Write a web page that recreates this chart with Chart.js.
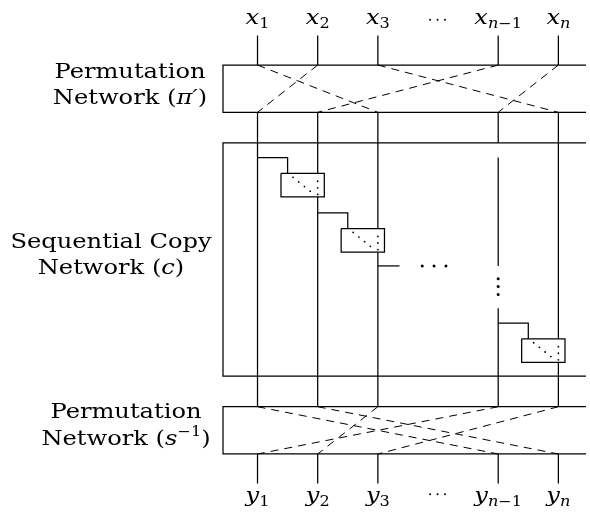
<!DOCTYPE html>
<html>
<head>
<meta charset="utf-8">
<script src="https://cdn.jsdelivr.net/npm/chart.js@4"></script>
<style>html,body{margin:0;padding:0;background:#fff}</style>
</head>
<body>
<canvas id="net" width="590" height="522"></canvas>
<script>
// wires and permutations
const wireSubs = ['1', '2', '3', 'n\u22121', 'n'];
const wireSlots = [0, 1, 2, 4, 5];
const piPrime = [2, 0, 4, 1, 3];   // top permutation: input i goes to wire piPrime[i]
const sInverse = [3, 4, 1, 0, 2];  // bottom permutation
const copySteps = [0, 1, 3];       // wires that branch into a copy box on the next wire
const ellipsisStep = 2;            // wire whose branch ends in "..."
const sectionTitles = ['Permutation', 'Sequential Copy', 'Permutation'];
const sectionNotes = ['\u03C0\u2032', 'c', 's'];

// layout
const PX0 = 257, SLOT = 61;
const toSlot = px => (px - PX0) / SLOT;
const L = toSlot(222), R = toSlot(600);
const topBox = [62, 110], midBox = [141, 378], botBox = [409, 457];
const wireTop = 32, wireBot = 487;
const stepY = j => 156 + 56 * j;

const datasets = [];
function seg(pts, dash, w) {
  datasets.push({
    data: pts.map(p => ({x: p[0], y: p[1]})),
    showLine: true, pointRadius: 0, borderColor: '#000',
    borderWidth: w || 1.25, borderDash: dash || [], fill: false, tension: 0
  });
}
function dots(pts, r) {
  datasets.push({
    data: pts.map(p => ({x: p[0], y: p[1]})),
    showLine: false, pointRadius: r, pointBorderWidth: 0,
    pointBackgroundColor: '#000', borderColor: '#000'
  });
}

// boxes (right side runs off the picture)
[topBox, midBox, botBox].forEach(b => seg([[R, b[0]], [L, b[0]], [L, b[1]], [R, b[1]]]));

// permutation wiring
wireSlots.forEach((s, i) => {
  seg([[s, topBox[0]], [wireSlots[piPrime[i]], topBox[1]]], [8, 6], 1);
  seg([[s, botBox[0]], [wireSlots[sInverse[i]], botBox[1]]], [8, 6], 1);
});

// copy boxes hanging off each step
const boxedWires = {};
copySteps.forEach(k => {
  const s = wireSlots[k], y = stepY(k);
  seg([[s, y], [s + 0.5, y], [s + 0.5, y + 16]]);
  seg([[s + 0.39, y + 16], [s + 1.11, y + 16], [s + 1.11, y + 40], [s + 0.39, y + 40], [s + 0.39, y + 16]]);
  const diag = [0, 1, 2, 3].map(d => [s + 0.59 + d * 0.095, y + 20 + d * 4.7]);
  const onWire = [0, 1, 2].map(d => [s + 1, y + 24 + d * 6.7]);
  dots(diag.concat(onWire), 0.9);
  boxedWires[k + 1] = [y + 16, y + 40];
});

// vertical wires
wireSlots.forEach((s, i) => {
  seg([[s, wireTop], [s, topBox[0]]]);
  seg([[s, botBox[1]], [s, wireBot]]);
  if (s === 4) {
    seg([[s, topBox[1]], [s, midBox[0]]]);
    seg([[s, stepY(0)], [s, stepY(ellipsisStep) - 2]]);
    seg([[s, 309], [s, botBox[0]]]);
    dots([[s, 279], [s, 287], [s, 295]], 1.5);
  } else if (boxedWires[i]) {
    seg([[s, topBox[1]], [s, boxedWires[i][0]]]);
    seg([[s, boxedWires[i][1]], [s, botBox[0]]]);
  } else {
    seg([[s, topBox[1]], [s, botBox[0]]]);
  }
});

// branch that trails off
const es = wireSlots[ellipsisStep], ey = stepY(ellipsisStep) - 2;
seg([[es, ey], [es + 0.36, ey]]);
dots([[toSlot(424), ey], [toSlot(436), ey], [toSlot(448), ey]], 1.5);

// "..." between x3 and x_{n-1}
dots([[toSlot(432), 16], [toSlot(439.5), 16], [toSlot(447), 16]], 1);
dots([[toSlot(432), 498], [toSlot(439.5), 498], [toSlot(447), 498]], 1);

// text
const MATH = 'italic 21px "DejaVu Serif"';
const SUB = '14px "DejaVu Serif"';
const SUBI = 'italic 14px "DejaVu Serif"';
const ROMAN = '21px "DejaVu Serif"';
const STRETCH = 1.15;

function drawRuns(ctx, runs, cx, base, sx) {
  let w = 0;
  runs.forEach(r => { ctx.font = r[1]; w += ctx.measureText(r[0]).width; });
  ctx.save();
  ctx.translate(cx, base);
  ctx.scale(sx, 1);
  let x = -w / 2;
  runs.forEach(r => {
    ctx.font = r[1];
    ctx.fillText(r[0], x, r[2] || 0);
    x += ctx.measureText(r[0]).width;
  });
  ctx.restore();
}

function subRuns(sub) {
  if (sub[0] === 'n') {
    const runs = [['n', SUBI, 4]];
    if (sub.length > 1) runs.push([sub.slice(1), SUB, 4]);
    return runs;
  }
  return [[sub, SUB, 4]];
}

const textPlugin = {
  id: 'labels',
  afterDatasetsDraw(chart) {
    const ctx = chart.ctx, xs = chart.scales.x, ys = chart.scales.y;
    ctx.save();
    ctx.fillStyle = '#000';
    ctx.textBaseline = 'alphabetic';
    wireSlots.forEach((s, i) => {
      const cx = xs.getPixelForValue(s);
      drawRuns(ctx, [['x', MATH]].concat(subRuns(wireSubs[i])), cx, ys.getPixelForValue(20), STRETCH);
      drawRuns(ctx, [['y', MATH]].concat(subRuns(wireSubs[i])), cx, ys.getPixelForValue(506), STRETCH);
    });

    const centres = [130, 111, 126];
    const bases = [[78, 104], [248, 274], [418, 445]];
    sectionTitles.forEach((t, i) => {
      drawRuns(ctx, [[t, ROMAN]], centres[i], bases[i][0], STRETCH);
      let note;
      if (i === 2) note = [['Network (', ROMAN], ['s', MATH], ['\u22121', SUB, -9], [')', ROMAN]];
      else note = [['Network (', ROMAN], [sectionNotes[i], MATH], [')', ROMAN]];
      drawRuns(ctx, note, centres[i], bases[i][1], STRETCH);
    });
    ctx.restore();
  }
};

new Chart(document.getElementById('net').getContext('2d'), {
  type: 'scatter',
  data: {datasets: datasets},
  options: {
    responsive: false,
    animation: false,
    events: [],
    layout: {padding: 0},
    scales: {
      x: {type: 'linear', min: toSlot(0), max: toSlot(590), display: false},
      y: {type: 'linear', min: 0, max: 522, reverse: true, display: false}
    },
    plugins: {legend: {display: false}, tooltip: {enabled: false}}
  },
  plugins: [textPlugin]
});
</script>
</body>
</html>
